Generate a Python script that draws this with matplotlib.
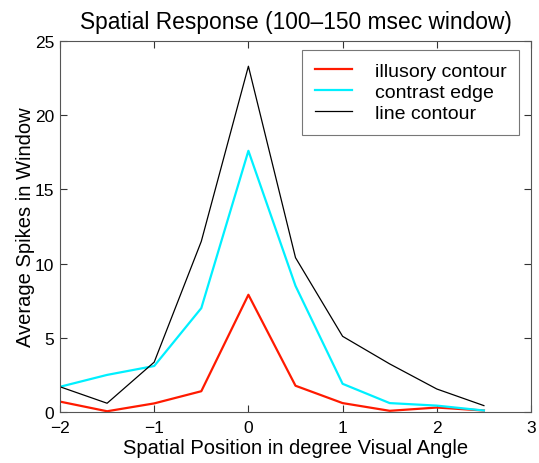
import matplotlib
matplotlib.use("Agg")
import matplotlib.pyplot as plt

x = [-2, -1.5, -1, -0.5, 0, 0.5, 1, 1.5, 2, 2.5]
illusory = [0.7, 0.05, 0.58, 1.4, 7.9, 1.77, 0.6, 0.08, 0.3, 0.1]
contrast = [1.7, 2.5, 3.1, 7.0, 17.6, 8.5, 1.9, 0.6, 0.43, 0.1]
line_c = [1.7, 0.59, 3.36, 11.5, 23.3, 10.4, 5.1, 3.24, 1.55, 0.43]
xticks = [-2, -1, 0, 1, 2, 3]
yticks = [0, 5, 10, 15, 20, 25]

plt.rcParams['font.family'] = ['Liberation Sans', 'DejaVu Sans']

fig = plt.figure(figsize=(5.39, 4.64), dpi=100)
ax = fig.add_axes([60/539, 1-413/464, (531-60)/539, (413-42)/464])

ax.plot(x, illusory, color='#ff1a00', lw=1.6, label='illusory contour')
ax.plot(x, contrast, color='#00f0ff', lw=1.6, label='contrast edge')
ax.plot(x, line_c, color='black', lw=0.9, label='line contour')

ax.set_xlim(-2, 3)
ax.set_ylim(0, 25)
ax.set_xticks(xticks)
ax.set_yticks(yticks)
ax.set_xticklabels(['\u22122', '\u22121', '0', '1', '2', '3'])
ax.tick_params(direction='in', top=True, right=True, length=5, width=0.8,
               labelsize=12.5, colors='#333333', labelcolor='black')
ax.tick_params(axis='x', pad=6)
ax.tick_params(axis='y', pad=4)
for s in ax.spines.values():
    s.set_color('#555555')
    s.set_linewidth(0.8)

ax.set_title('Spatial Response (100\u2013150 msec window)', fontsize=16.4, pad=9)
ax.set_xlabel('Spatial Position in degree Visual Angle', fontsize=14.5, labelpad=2)
ax.set_ylabel('Average Spikes in Window', fontsize=14.5, labelpad=0)

leg = ax.legend(loc='upper right', bbox_to_anchor=(519/539, 1-50.5/464),
                bbox_transform=fig.transFigure, fontsize=14, frameon=True,
                fancybox=False, handlelength=1.9, handletextpad=1.18,
                labelspacing=0.18, borderpad=0.65, borderaxespad=0)
leg.get_frame().set_edgecolor('#555555')
leg.get_frame().set_linewidth(0.8)

fig.savefig('out.png', dpi=100)
